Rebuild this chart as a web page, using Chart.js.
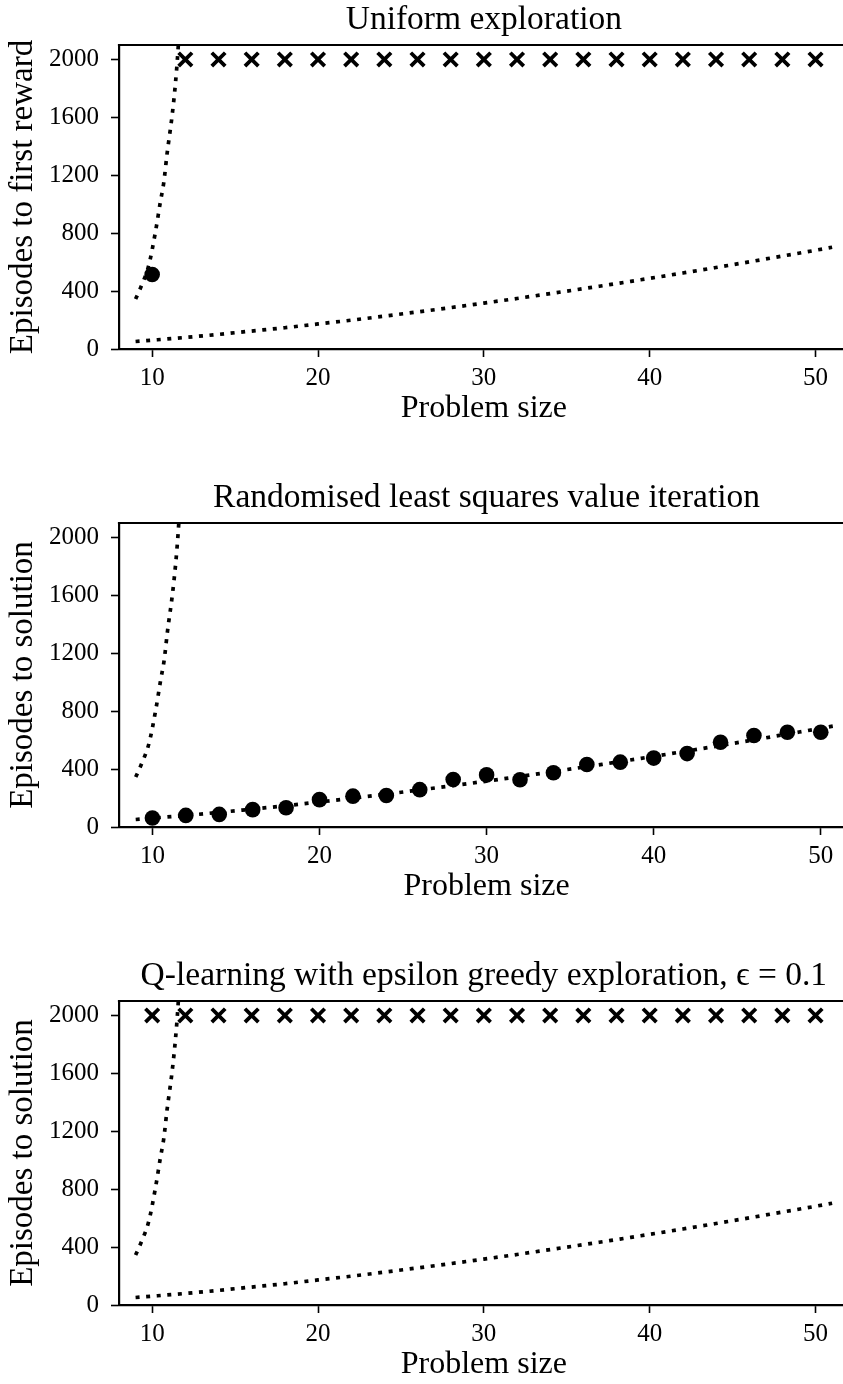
<!DOCTYPE html>
<html><head><meta charset="utf-8">
<script src="https://cdn.jsdelivr.net/npm/chart.js@4.4.1/dist/chart.umd.min.js"></script>
<style>
html,body{margin:0;padding:0;background:#fff;overflow:hidden;width:843px;height:1384px;position:relative;}
.wrap{position:absolute;left:0;width:862px;height:428px;}
canvas{display:block;}
</style></head><body>
<div class="wrap" style="top:0px"><canvas id="c1" width="862" height="428"></canvas></div>
<div class="wrap" style="top:478px"><canvas id="c2" width="862" height="428"></canvas></div>
<div class="wrap" style="top:956px"><canvas id="c3" width="862" height="428"></canvas></div>
<script>
// ---- data ----
const titles = ["Uniform exploration", "Randomised least squares value iteration", "Q-learning with epsilon greedy exploration, \u03f5 = 0.1"];
const yLabels = ["Episodes to first reward", "Episodes to solution", "Episodes to solution"];
const xLabel = "Problem size";
const xTicks = [10, 20, 30, 40, 50];
const yTicks = [0, 400, 800, 1200, 1600, 2000];

const uniformSolvedX = [10];
const uniformSolvedY = [515];
const uniformFailedX = [12, 14, 16, 18, 20, 22, 24, 26, 28, 30, 32, 34, 36, 38, 40, 42, 44, 46, 48, 50];
const uniformFailedY = [2000, 2000, 2000, 2000, 2000, 2000, 2000, 2000, 2000, 2000, 2000, 2000, 2000, 2000, 2000, 2000, 2000, 2000, 2000, 2000];

const rlsviX = [10, 12, 14, 16, 18, 20, 22, 24, 26, 28, 30, 32, 34, 36, 38, 40, 42, 44, 46, 48, 50];
const rlsviY = [62, 80, 87, 120, 133, 189, 213, 218, 258, 328, 360, 326, 375, 432, 448, 476, 507, 585, 632, 655, 655];

const qlearnFailedX = [10, 12, 14, 16, 18, 20, 22, 24, 26, 28, 30, 32, 34, 36, 38, 40, 42, 44, 46, 48, 50];
const qlearnFailedY = [2000, 2000, 2000, 2000, 2000, 2000, 2000, 2000, 2000, 2000, 2000, 2000, 2000, 2000, 2000, 2000, 2000, 2000, 2000, 2000, 2000];

const expCurveX = [9, 9.4, 9.8, 10.2, 10.5, 10.7, 10.9, 11.2, 11.4, 11.55, 11.7];
const expCurveY = [345, 450, 580, 810, 1020, 1150, 1350, 1610, 1830, 2050, 2350];

const polyCurveX = [9, 10, 12, 14, 16, 18, 20, 22, 24, 26, 28, 30, 32, 34, 36, 38, 40, 42, 44, 46, 48, 50, 51];
const polyCurveY = [52, 61, 80, 101, 124, 147, 173, 199, 227, 256, 286, 317, 349, 383, 417, 452, 488, 525, 563, 602, 642, 682, 703];

// ---- helpers ----
const FONT = "'Liberation Serif', 'DejaVu Serif', serif";
const pts = (xs, ys) => xs.map((x, i) => ({x: x, y: ys[i]}));

function curveDs(xs, ys) {
  return {type: 'line', data: pts(xs, ys), borderColor: '#000', borderWidth: 3.7,
    borderDash: [4, 6.6], borderCapStyle: 'butt', pointRadius: 0, fill: false,
    cubicInterpolationMode: 'monotone', showLine: true};
}
function circleDs(xs, ys) {
  return {type: 'scatter', data: pts(xs, ys), pointStyle: 'circle', pointRadius: 7.8,
    backgroundColor: '#000', borderColor: '#000', borderWidth: 0, showLine: false};
}
function crossDs(xs, ys) {
  return {type: 'scatter', data: pts(xs, ys), pointStyle: 'crossRot', pointRadius: 9.5,
    backgroundColor: '#000', borderColor: '#000', borderWidth: 3.8, showLine: false};
}

const topSpine = {
  id: 'topSpine',
  afterDraw(chart) {
    const a = chart.chartArea, ctx = chart.ctx;
    ctx.save();
    ctx.strokeStyle = '#000';
    ctx.lineWidth = 2.2;
    ctx.beginPath();
    ctx.moveTo(a.left - 1.1, a.top);
    ctx.lineTo(a.right + 1.1, a.top);
    ctx.stroke();
    ctx.restore();
  }
};

const plainNum = v => String(v);

function makeChart(id, title, yLabel, markerSets) {
  const datasets = markerSets.concat([curveDs(expCurveX, expCurveY), curveDs(polyCurveX, polyCurveY)]);
  new Chart(document.getElementById(id), {
    type: 'scatter',
    data: {datasets: datasets},
    plugins: [topSpine],
    options: {
      responsive: false,
      animation: false,
      events: [],
      layout: {padding: 0},
      plugins: {
        legend: {display: false},
        tooltip: {enabled: false},
        title: {display: true, text: title, fullSize: false, color: '#000',
          font: {family: FONT, size: 33.5, weight: 'normal', lineHeight: 1.2},
          padding: {top: 0.5, bottom: 4.3}}
      },
      scales: {
        x: {
          type: 'linear', position: 'bottom', min: 8, max: 52,
          afterBuildTicks: s => { s.ticks = xTicks.map(v => ({value: v})); },
          afterFit: s => { s.height = 79; },
          ticks: {color: '#000', font: {family: FONT, size: 25}, padding: 6, maxRotation: 0, autoSkip: false, callback: plainNum},
          grid: {drawOnChartArea: false, drawTicks: true, tickLength: 8, tickWidth: 1.6, tickColor: '#000'},
          border: {display: true, color: '#000', width: 2.2},
          title: {display: true, text: xLabel, color: '#000',
            font: {family: FONT, size: 32, lineHeight: 1.2}, padding: {top: 0, bottom: 0}}
        },
        y: {
          type: 'linear', position: 'left', min: 0, max: 2100,
          afterBuildTicks: s => { s.ticks = yTicks.map(v => ({value: v})); },
          afterFit: s => { s.width = 119; },
          ticks: {color: '#000', font: {family: FONT, size: 25}, padding: 12, autoSkip: false, callback: plainNum},
          grid: {drawOnChartArea: false, drawTicks: true, tickLength: 8, tickWidth: 1.6, tickColor: '#000'},
          border: {display: true, color: '#000', width: 2.2},
          title: {display: true, text: yLabel, color: '#000',
            font: {family: FONT, size: 33, lineHeight: 1.2}, padding: {top: 4, bottom: 0}}
        }
      }
    }
  });
}

makeChart('c1', titles[0], yLabels[0], [circleDs(uniformSolvedX, uniformSolvedY), crossDs(uniformFailedX, uniformFailedY)]);
makeChart('c2', titles[1], yLabels[1], [circleDs(rlsviX, rlsviY)]);
makeChart('c3', titles[2], yLabels[2], [crossDs(qlearnFailedX, qlearnFailedY)]);
</script>
</body></html>
